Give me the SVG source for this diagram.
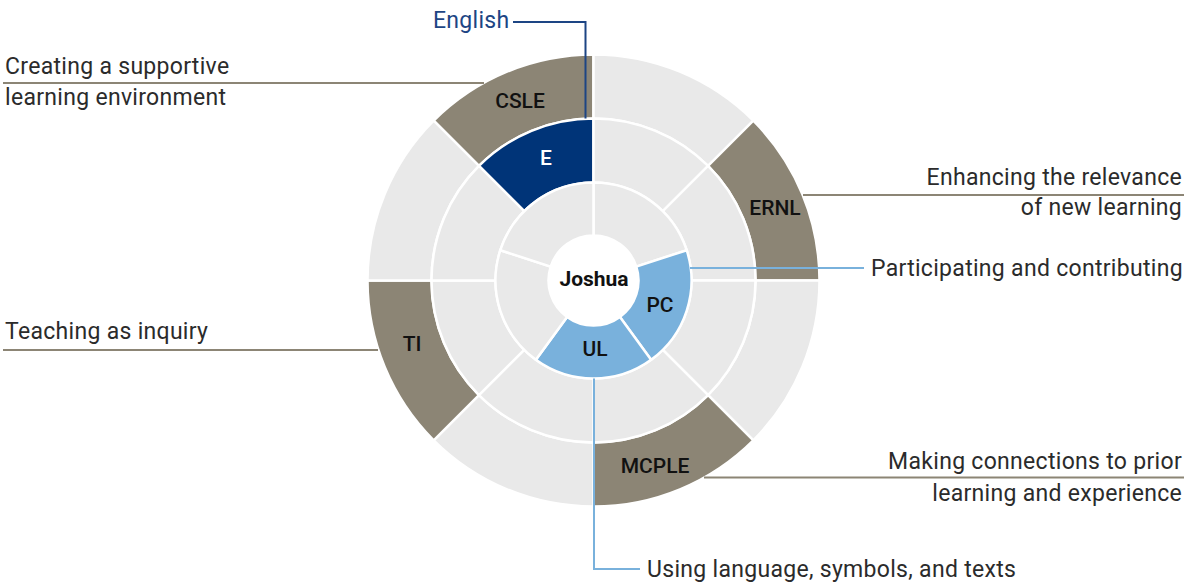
<svg xmlns="http://www.w3.org/2000/svg" width="1184" height="583" viewBox="0 0 1184 583">
  <style>
    .seg { stroke: #ffffff; stroke-width: 2.5; stroke-linejoin: miter; }
    .light { fill: #e9e9e9; }
    .taupe { fill: #8c8575; }
    .navy { fill: #003478; }
    .sky { fill: #79b1dc; }
    .lbl { font-family: Roboto, "Liberation Sans", sans-serif; font-size: 21px; font-weight: 500; fill: #111111; text-anchor: middle; }
    .lbl-w { fill: #ffffff; }
    .txt { font-family: Roboto, "Liberation Sans", sans-serif; font-size: 23px; letter-spacing: 0.3px; fill: #2b2b2b; }
    .end { text-anchor: end; }
    .ln-taupe { stroke: #8c8575; stroke-width: 2; fill: none; }
    .ln-blue { stroke: #79b1dc; stroke-width: 2; fill: none; }
    .ln-navy { stroke: #1d4584; stroke-width: 2; fill: none; }
  </style>

  <!-- outer ring: eight 45° sectors, r 162..226, centre (593.5, 280.5) -->
  <g id="ring-outer">
    <g id="node-csle">
      <path class="seg taupe" d="M433.69,120.69 A226,226 0 0 1 593.5,54.5 L593.5,118.5 A162,162 0 0 0 478.95,165.95 Z"/>
      <text class="lbl" x="520" y="108">CSLE</text>
    </g>
    <path class="seg light" d="M593.5,54.5 A226,226 0 0 1 753.31,120.69 L708.05,165.95 A162,162 0 0 0 593.5,118.5 Z"/>
    <g id="node-ernl">
      <path class="seg taupe" d="M753.31,120.69 A226,226 0 0 1 819.5,280.5 L755.5,280.5 A162,162 0 0 0 708.05,165.95 Z"/>
      <text class="lbl" x="775" y="215">ERNL</text>
    </g>
    <path class="seg light" d="M819.5,280.5 A226,226 0 0 1 753.31,440.31 L708.05,395.05 A162,162 0 0 0 755.5,280.5 Z"/>
    <g id="node-mcple">
      <path class="seg taupe" d="M753.31,440.31 A226,226 0 0 1 593.5,506.5 L593.5,442.5 A162,162 0 0 0 708.05,395.05 Z"/>
      <text class="lbl" x="655" y="473">MCPLE</text>
    </g>
    <path class="seg light" d="M593.5,506.5 A226,226 0 0 1 433.69,440.31 L478.95,395.05 A162,162 0 0 0 593.5,442.5 Z"/>
    <g id="node-ti">
      <path class="seg taupe" d="M433.69,440.31 A226,226 0 0 1 367.5,280.5 L431.5,280.5 A162,162 0 0 0 478.95,395.05 Z"/>
      <text class="lbl" x="412" y="351">TI</text>
    </g>
    <path class="seg light" d="M367.5,280.5 A226,226 0 0 1 433.69,120.69 L478.95,165.95 A162,162 0 0 0 431.5,280.5 Z"/>
  </g>

  <!-- middle ring: eight 45° sectors, r 98..162 -->
  <g id="ring-middle">
    <g id="node-e">
      <path class="seg navy" d="M478.95,165.95 A162,162 0 0 1 593.5,118.5 L593.5,182.5 A98,98 0 0 0 524.2,211.2 Z"/>
      <text class="lbl lbl-w" x="546" y="165">E</text>
    </g>
    <path class="seg light" d="M593.5,118.5 A162,162 0 0 1 708.05,165.95 L662.8,211.2 A98,98 0 0 0 593.5,182.5 Z"/>
    <path class="seg light" d="M708.05,165.95 A162,162 0 0 1 755.5,280.5 L691.5,280.5 A98,98 0 0 0 662.8,211.2 Z"/>
    <path class="seg light" d="M755.5,280.5 A162,162 0 0 1 708.05,395.05 L662.8,349.8 A98,98 0 0 0 691.5,280.5 Z"/>
    <path class="seg light" d="M708.05,395.05 A162,162 0 0 1 593.5,442.5 L593.5,378.5 A98,98 0 0 0 662.8,349.8 Z"/>
    <path class="seg light" d="M593.5,442.5 A162,162 0 0 1 478.95,395.05 L524.2,349.8 A98,98 0 0 0 593.5,378.5 Z"/>
    <path class="seg light" d="M478.95,395.05 A162,162 0 0 1 431.5,280.5 L495.5,280.5 A98,98 0 0 0 524.2,349.8 Z"/>
    <path class="seg light" d="M431.5,280.5 A162,162 0 0 1 478.95,165.95 L524.2,211.2 A98,98 0 0 0 495.5,280.5 Z"/>
  </g>

  <!-- inner ring: five 72° sectors, r 45..98 -->
  <g id="ring-inner">
    <path class="seg light" d="M593.5,182.5 A98,98 0 0 1 686.7,250.22 L636.3,266.59 A45,45 0 0 0 593.5,235.5 Z"/>
    <g id="node-pc">
      <path class="seg sky" d="M686.7,250.22 A98,98 0 0 1 651.1,359.78 L619.95,316.91 A45,45 0 0 0 636.3,266.59 Z"/>
      <text class="lbl" x="660" y="312">PC</text>
    </g>
    <g id="node-ul">
      <path class="seg sky" d="M651.1,359.78 A98,98 0 0 1 535.9,359.78 L567.05,316.91 A45,45 0 0 0 619.95,316.91 Z"/>
      <text class="lbl" x="595" y="356">UL</text>
    </g>
    <path class="seg light" d="M535.9,359.78 A98,98 0 0 1 500.3,250.22 L550.7,266.59 A45,45 0 0 0 567.05,316.91 Z"/>
    <path class="seg light" d="M500.3,250.22 A98,98 0 0 1 593.5,182.5 L593.5,235.5 A45,45 0 0 0 550.7,266.59 Z"/>
  </g>

  <g id="node-joshua">
    <circle cx="593.5" cy="280.5" r="45" fill="#ffffff"/>
    <text class="lbl" x="594" y="286" style="font-weight:700">Joshua</text>
  </g>

  <!-- leader lines -->
  <g id="connectors">
    <polyline class="ln-navy" points="513,22 585.5,22 585.5,118.5"/>
    <line class="ln-taupe" x1="3" y1="83" x2="484" y2="83"/>
    <line class="ln-taupe" x1="803" y1="195" x2="1184" y2="195"/>
    <line class="ln-blue" x1="690" y1="268" x2="864" y2="268"/>
    <line class="ln-taupe" x1="3" y1="350" x2="378" y2="350"/>
    <line class="ln-taupe" x1="704" y1="477.5" x2="1184" y2="477.5"/>
    <polyline class="ln-blue" points="594,378.5 594,569 640,569"/>
  </g>

  <!-- captions -->
  <g id="captions">
    <text class="txt" x="433" y="28" style="fill:#1d4584">English</text>
    <text class="txt" x="5" y="74">Creating a supportive</text>
    <text class="txt" x="5" y="105">learning environment</text>
    <text class="txt end" x="1182" y="185">Enhancing the relevance</text>
    <text class="txt end" x="1182" y="215">of new learning</text>
    <text class="txt" x="871" y="276">Participating and contributing</text>
    <text class="txt" x="5" y="339">Teaching as inquiry</text>
    <text class="txt end" x="1182" y="469">Making connections to prior</text>
    <text class="txt end" x="1182" y="501">learning and experience</text>
    <text class="txt" x="647" y="577">Using language, symbols, and texts</text>
  </g>
</svg>
